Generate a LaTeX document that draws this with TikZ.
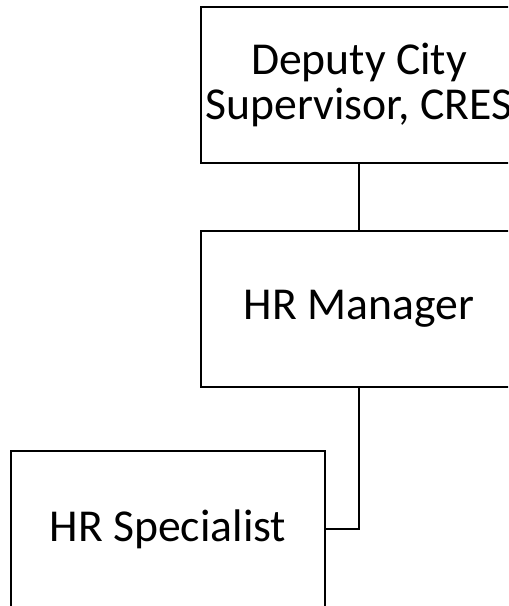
\documentclass[tikz,border=0pt]{standalone}
\usepackage{fontspec}
\setmainfont{Carlito}
\usetikzlibrary{positioning}

\begin{document}
\begin{tikzpicture}[
    x=0.02cm, y=-0.02cm,
    node distance=1.32cm,
    every node/.style={draw=black, line width=1.2pt, font=\fontsize{26}{26}\selectfont, align=center, inner sep=0pt},
    post/.style={minimum width=6.32cm, minimum height=3.12cm}
]

% Page frame
\useasboundingbox (0,0) rectangle (508,606);
\clip (0,0) rectangle (508,606);

% Boxes
\node[post] (deputy) at (359, 85) {Deputy City\\Supervisor, CRES};
\node[post, below=of deputy] (manager) {HR Manager};
\node[post, minimum width=6.28cm] (specialist) at (168, 529) {HR Specialist};

% Connectors
\draw[line width=1.2pt] (deputy) -- (manager);
\draw[line width=1.2pt] (manager.south) |- (specialist.east);

\end{tikzpicture}
\end{document}
